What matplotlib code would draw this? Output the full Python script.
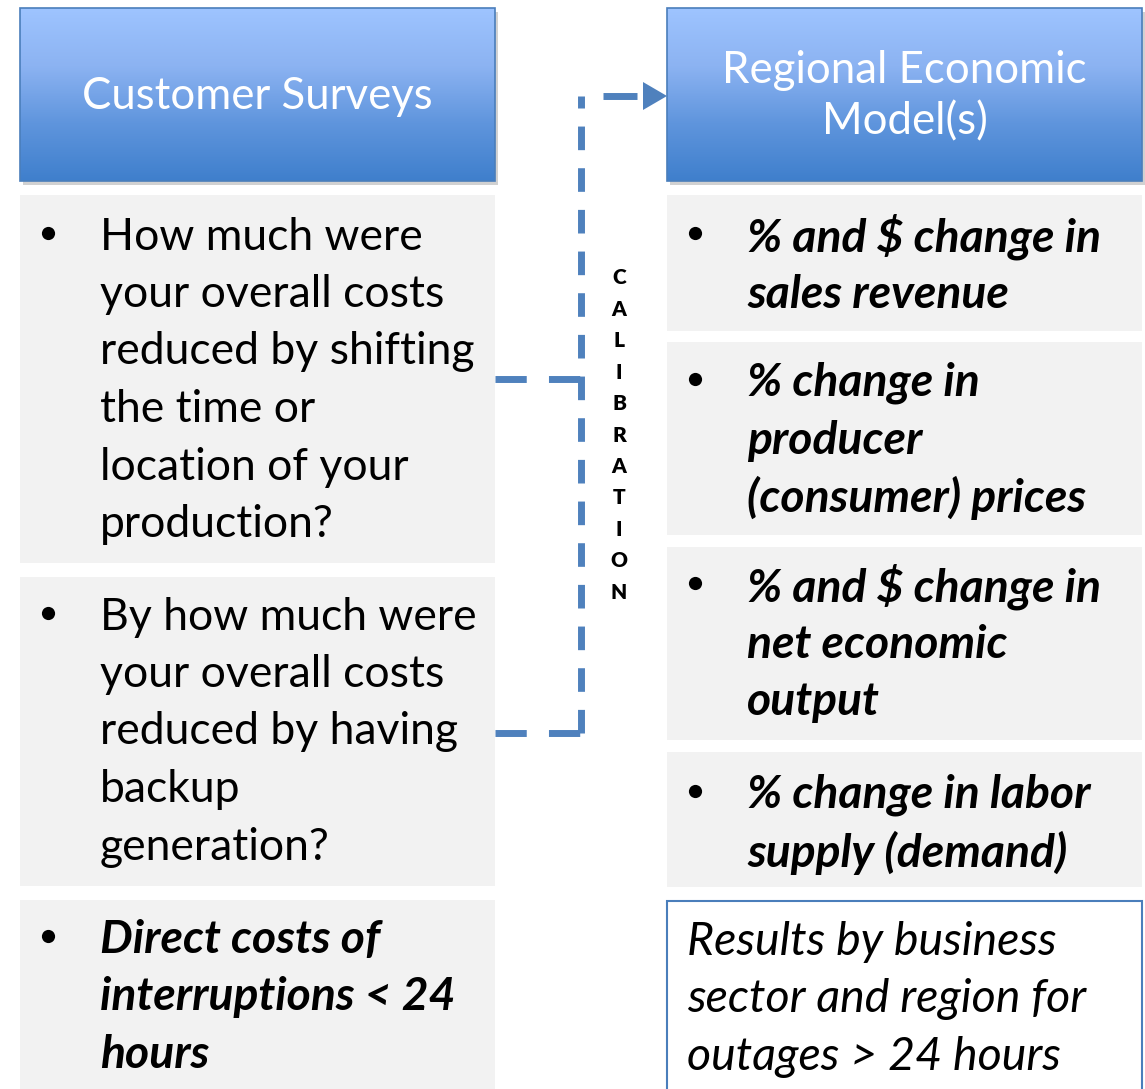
import numpy as np
import matplotlib.pyplot as plt
from matplotlib.patches import Rectangle, Polygon
from matplotlib.colors import LinearSegmentedColormap

plt.rcParams['font.family'] = ['Lato', 'DejaVu Sans']

# header titles
left_title = 'Customer Surveys'
right_title = 'Regional Economic\nModel(s)'

# left column bullet boxes (y top, y bottom, lines, style)
left_boxes = [
    (195, 563, ['How much were', 'your overall costs', 'reduced by shifting',
                'the time or', 'location of your', 'production?'], 'normal'),
    (577, 886, ['By how much were', 'your overall costs', 'reduced by having',
                'backup', 'generation?'], 'normal'),
    (900, 1089, ['Direct costs of', 'interruptions < 24', 'hours'], 'bolditalic'),
]
left_first_line = [237, 617, 940]

right_boxes = [
    (195, 331, ['% and $ change in', 'sales revenue']),
    (342, 535, ['% change in', 'producer', '(consumer) prices']),
    (547, 740, ['% and $ change in', 'net economic', 'output']),
    (752, 887, ['% change in labor', 'supply (demand)']),
]
right_first_line = [237, 383, 587, 795]

results_lines = ['Results by business', 'sector and region for', 'outages > 24 hours']
side_label = 'CALIBRATION'

W, H = 1145, 1089
fig = plt.figure(figsize=(W / 100, H / 100), dpi=100)
ax = fig.add_axes([0, 0, 1, 1])
ax.set_xlim(0, W)
ax.set_ylim(H, 0)
ax.axis('off')

line_step = 57.5
reg_size = 32
bi_size = 33.3
blue = '#4F81BD'
grad = LinearSegmentedColormap.from_list('hdr', ['#9EC4FF', '#8CB3F2', '#5F95DD', '#3F7FCC'])


def header(x0, x1, y0, y1, text):
    ax.add_patch(Rectangle((x0 + 3, y0 + 4), x1 - x0, y1 - y0, fc='#000000', alpha=0.18, ec='none', zorder=1))
    g = np.linspace(0, 1, 256).reshape(-1, 1)
    ax.imshow(g, cmap=grad, extent=(x0, x1, y1, y0), aspect='auto', zorder=2)
    ax.add_patch(Rectangle((x0, y0), x1 - x0, y1 - y0, fc='none', ec='#4A7EBB', lw=1.2, zorder=3))
    ax.text((x0 + x1) / 2, (y0 + y1) / 2 + 2, text, color='white', fontsize=31.5,
            ha='center', va='center', linespacing=1.3, zorder=4)


def bullet(x, y):
    ax.plot([x], [y], marker='o', ms=9.5, color='black', mec='none', zorder=4)


header(20, 495, 8, 181, left_title)
header(667, 1142, 8, 181, right_title)
ax.set_xlim(0, W)
ax.set_ylim(H, 0)

for (y0, y1, lines, style), ly in zip(left_boxes, left_first_line):
    ax.add_patch(Rectangle((20, y0), 475, y1 - y0, fc='#F2F2F2', ec='none', zorder=1))
    if style == 'bolditalic':
        kw = dict(fontweight='bold', fontstyle='italic', fontsize=bi_size)
    else:
        kw = dict(fontsize=reg_size)
    bullet(48, ly - 4)
    for i, t in enumerate(lines):
        ax.text(100, ly + i * line_step, t, va='center', ha='left', zorder=4, **kw)

for (y0, y1, lines), ly in zip(right_boxes, right_first_line):
    ax.add_patch(Rectangle((667, y0), 475, y1 - y0, fc='#F2F2F2', ec='none', zorder=1))
    bullet(695, ly - 4)
    for i, t in enumerate(lines):
        ax.text(747, ly + i * line_step, t, fontsize=bi_size, va='center', ha='left', zorder=4,
                fontweight='bold', fontstyle='italic')

ax.add_patch(Rectangle((667, 901), 475, 200, fc='white', ec='#4A7EBB', lw=1.5, zorder=1))
for i, t in enumerate(results_lines):
    ax.text(687, 942 + i * line_step, t, fontsize=33.5, va='center', ha='left',
            fontstyle='italic', zorder=4)

# calibration connector
ax.plot([495, 581], [379, 379], color=blue, lw=5, ls=(0, (4.5, 3.2)), solid_capstyle='butt', zorder=5)
ax.plot([495, 581], [733, 733], color=blue, lw=5, ls=(0, (4.5, 3.2)), solid_capstyle='butt', zorder=5)
ax.plot([581, 581], [733, 96], color=blue, lw=5, ls=(0, (3.4, 2.6)), solid_capstyle='butt', zorder=5)
ax.plot([603, 637], [96, 96], color=blue, lw=5, solid_capstyle='butt', zorder=5)
ax.add_patch(Polygon([(643, 82), (643, 110), (667, 96)], closed=True, fc=blue, ec='none', zorder=5))

ax.text(619, 435, '\n'.join(side_label), fontsize=15, fontweight='heavy', ha='center', va='center',
        linespacing=1.78, zorder=4)

fig.savefig('out.png', dpi=100)
